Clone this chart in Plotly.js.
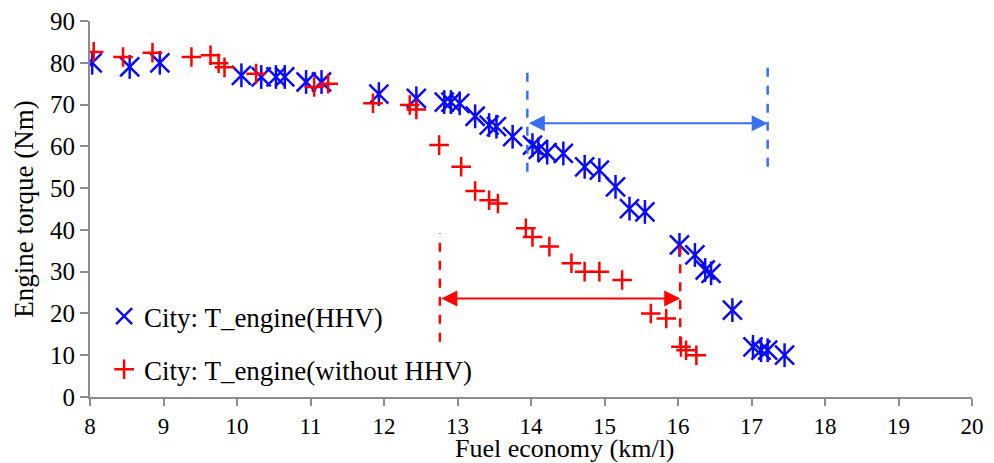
<!DOCTYPE html>
<html>
<head>
<meta charset="utf-8">
<script src="https://cdn.plot.ly/plotly-3.0.1.min.js"></script>
<style>
html,body{margin:0;padding:0;background:#fff;}
#chart{width:994px;height:463px;}
</style>
</head>
<body>
<div id="chart"></div>
<script>
// Series: City T_engine with HHV (blue asterisks)
const hhvFuel = [8.03,8.54,8.95,10.06,10.33,10.53,10.65,10.94,11.15,11.93,12.44,12.82,12.91,13.03,13.24,13.43,13.53,13.75,14.02,14.10,14.22,14.44,14.73,14.93,15.15,15.34,15.55,16.02,16.23,16.37,16.45,16.74,17.02,17.13,17.22,17.45];
const hhvTorque = [80,79,80,77,76.6,76.6,76.6,75.4,75.4,72.5,71.5,70.6,70.6,70.3,67.2,65.1,64.7,62.3,60.3,59.3,58.5,58.3,55.1,54.3,50.3,45.1,44.3,36.4,34,30.4,29.6,20.8,12,11.2,11.2,10];

// Series: City T_engine without HHV (red plus)
const noHhvFuel = [8.05,8.45,8.85,9.38,9.64,9.75,9.83,10.26,11.05,11.24,11.85,12.35,12.44,12.75,13.05,13.24,13.43,13.55,13.93,14.02,14.25,14.55,14.73,14.93,15.24,15.63,15.84,16.04,16.11,16.25];
const noHhvTorque = [82.6,81.4,82.4,81.4,81.8,79.9,78.9,77.4,74.2,75.0,70.3,69.9,68.8,60.3,55.1,49.3,47.1,46.3,40.4,38.3,36.0,32.0,30.0,30.0,28.0,20.0,18.8,12.0,11.2,10.0];

// Range markers (fuel economy span) for each series
const hhvSpanX = [13.95, 17.22];
const hhvSpanLeftY = [53.9, 79.2];
const hhvSpanRightY = [55.1, 80.8];
const hhvArrowY = 65.5;
const noHhvSpanX = [12.76, 16.03];
const noHhvSpanLeftY = [13.2, 39.2];
const noHhvSpanRightY = [12.4, 36.8];
const noHhvArrowY = 23.6;

const seriesNames = ['City: T_engine(HHV)', 'City: T_engine(without HHV)'];
const xTicks = [8,9,10,11,12,13,14,15,16,17,18,19,20];
const yTicks = [0,10,20,30,40,50,60,70,80,90];

const BLUE = '#0a0aff';
const RED = '#ff0000';
const ABLUE = '#3b6ff2';
const FONT = 'Liberation Serif, Times New Roman, serif';

const traces = [
  {x: hhvFuel, y: hhvTorque, type: 'scatter', mode: 'markers', name: seriesNames[0], legendgroup: 'a',
   marker: {symbol: 'x-thin-open', size: 19, color: BLUE, line: {color: BLUE, width: 2.5}}},
  // vertical stroke of the asterisk glyph, same points
  {x: hhvFuel, y: hhvTorque, type: 'scatter', mode: 'markers', name: seriesNames[0], legendgroup: 'a', showlegend: false,
   marker: {symbol: 'line-ns-open', size: 17, color: BLUE, line: {color: BLUE, width: 2.5}}},
  {x: noHhvFuel, y: noHhvTorque, type: 'scatter', mode: 'markers', name: seriesNames[1], legendgroup: 'b',
   marker: {symbol: 'cross-thin-open', size: 14, color: RED, line: {color: RED, width: 2.5}}}
];

const shapes = [
  {type: 'line', xref: 'x', yref: 'y', x0: hhvSpanX[0], x1: hhvSpanX[0], y0: hhvSpanLeftY[0], y1: hhvSpanLeftY[1], line: {color: ABLUE, width: 2.5, dash: 'dash'}},
  {type: 'line', xref: 'x', yref: 'y', x0: hhvSpanX[1], x1: hhvSpanX[1], y0: hhvSpanRightY[0], y1: hhvSpanRightY[1], line: {color: ABLUE, width: 2.5, dash: 'dash'}},
  {type: 'line', xref: 'x', yref: 'y', x0: noHhvSpanX[0], x1: noHhvSpanX[0], y0: noHhvSpanLeftY[0], y1: noHhvSpanLeftY[1], line: {color: RED, width: 2.5, dash: 'dash'}},
  {type: 'line', xref: 'x', yref: 'y', x0: noHhvSpanX[1], x1: noHhvSpanX[1], y0: noHhvSpanRightY[0], y1: noHhvSpanRightY[1], line: {color: RED, width: 2.5, dash: 'dash'}}
];

const annotations = [
  {x: hhvSpanX[1], y: hhvArrowY, ax: hhvSpanX[0], ay: hhvArrowY, xref: 'x', yref: 'y', axref: 'x', ayref: 'y', text: '',
   showarrow: true, arrowside: 'end+start', arrowhead: 2, arrowsize: 1.6, arrowwidth: 2, arrowcolor: ABLUE, standoff: 0, startstandoff: 0},
  {x: noHhvSpanX[1], y: noHhvArrowY, ax: noHhvSpanX[0], ay: noHhvArrowY, xref: 'x', yref: 'y', axref: 'x', ayref: 'y', text: '',
   showarrow: true, arrowside: 'end+start', arrowhead: 2, arrowsize: 1.6, arrowwidth: 2, arrowcolor: RED, standoff: 0, startstandoff: 0},
  {x: 0.539, y: -0.138, xref: 'paper', yref: 'paper', text: 'Fuel economy (km/l)', showarrow: false,
   xanchor: 'center', yanchor: 'middle', borderpad: 0, font: {family: FONT, size: 26, color: '#000'}}
];

const layout = {
  width: 994, height: 463,
  margin: {l: 90, r: 22, t: 21, b: 66},
  paper_bgcolor: '#fff', plot_bgcolor: '#fff',
  font: {family: FONT, color: '#000'},
  showlegend: true,
  legend: {x: 0.016, y: 0.1435, xanchor: 'left', yanchor: 'middle', bgcolor: 'rgba(0,0,0,0)',
           font: {family: FONT, size: 27, color: '#000'}, tracegroupgap: 15, itemwidth: 30},
  xaxis: {range: [8, 20], tickvals: xTicks, ticktext: xTicks.map(String), showgrid: false, zeroline: false,
          showline: true, linecolor: '#8c8c8c', linewidth: 2, ticks: 'outside', ticklen: 7, tickwidth: 2, tickcolor: '#8c8c8c',
          tickfont: {family: FONT, size: 23, color: '#000'}},
  yaxis: {range: [0, 90], tickvals: yTicks, ticktext: yTicks.map(String), showgrid: false, zeroline: false,
          showline: true, linecolor: '#8c8c8c', linewidth: 2, ticks: 'outside', ticklen: 8, tickwidth: 2, tickcolor: '#8c8c8c',
          tickfont: {family: FONT, size: 25, color: '#000'},
          title: {text: 'Engine torque (Nm)', font: {family: FONT, size: 27, color: '#000'}, standoff: 9}},
  shapes: shapes,
  annotations: annotations
};

Plotly.newPlot('chart', traces, layout, {displayModeBar: false, staticPlot: true});
</script>
</body>
</html>
